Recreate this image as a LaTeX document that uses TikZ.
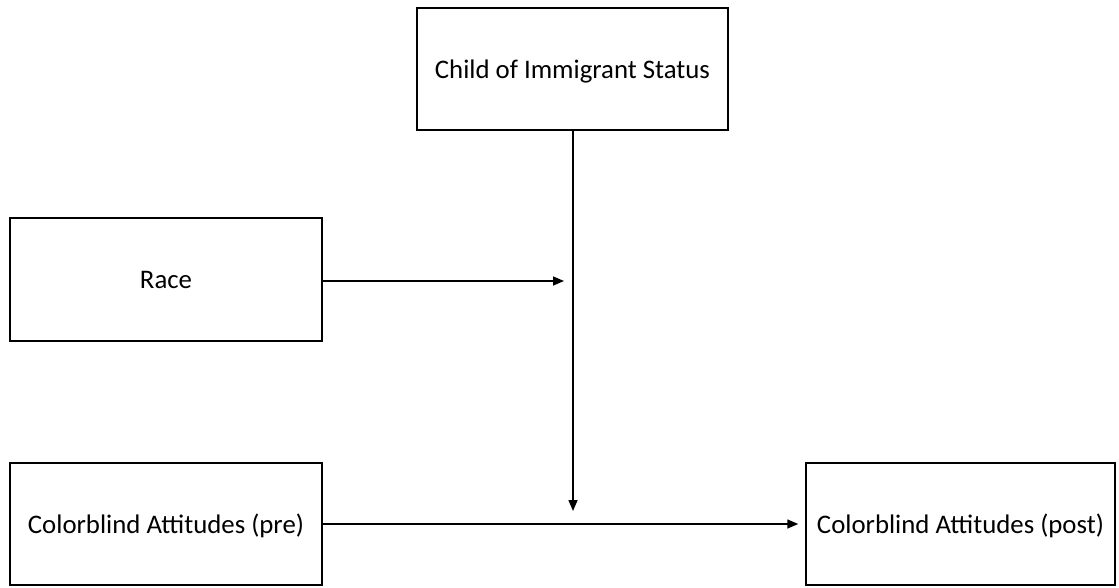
\documentclass[tikz,border=0pt]{standalone}
\usepackage{fontspec}
\setmainfont{Carlito}
\usetikzlibrary{arrows.meta}
\begin{document}
\begin{tikzpicture}[x=1pt,y=-1pt,
  box/.style={draw=black,line width=1.5pt,inner sep=0pt,text depth=0pt,font=\fontsize{26.8}{32}\selectfont},
  conn/.style={line width=1.5pt,-{Triangle[length=11pt,width=9pt]}}]
\useasboundingbox (0,0) rectangle (1119,588);
\node[box,minimum width=311pt,minimum height=122pt] (child) at (572.5,69) {Child of Immigrant Status};
\node[box,minimum width=312pt,minimum height=123pt] (race) at (166,279.5) {Race};
\node[box,minimum width=312pt,minimum height=122pt] (pre) at (166,524) {Colorblind Attitudes (pre)};
\node[box,minimum width=309pt,minimum height=122pt] (post) at (960.5,524) {Colorblind Attitudes (post)};
\coordinate (vend) at (573,511);
\coordinate (rend) at (564,281);
\draw[conn] (child.south -| vend) -- (vend);
\draw[conn] (race.east |- rend) -- (rend);
\draw[conn,shorten >=7pt] (pre.east) -- (post.west);
\end{tikzpicture}
\end{document}
